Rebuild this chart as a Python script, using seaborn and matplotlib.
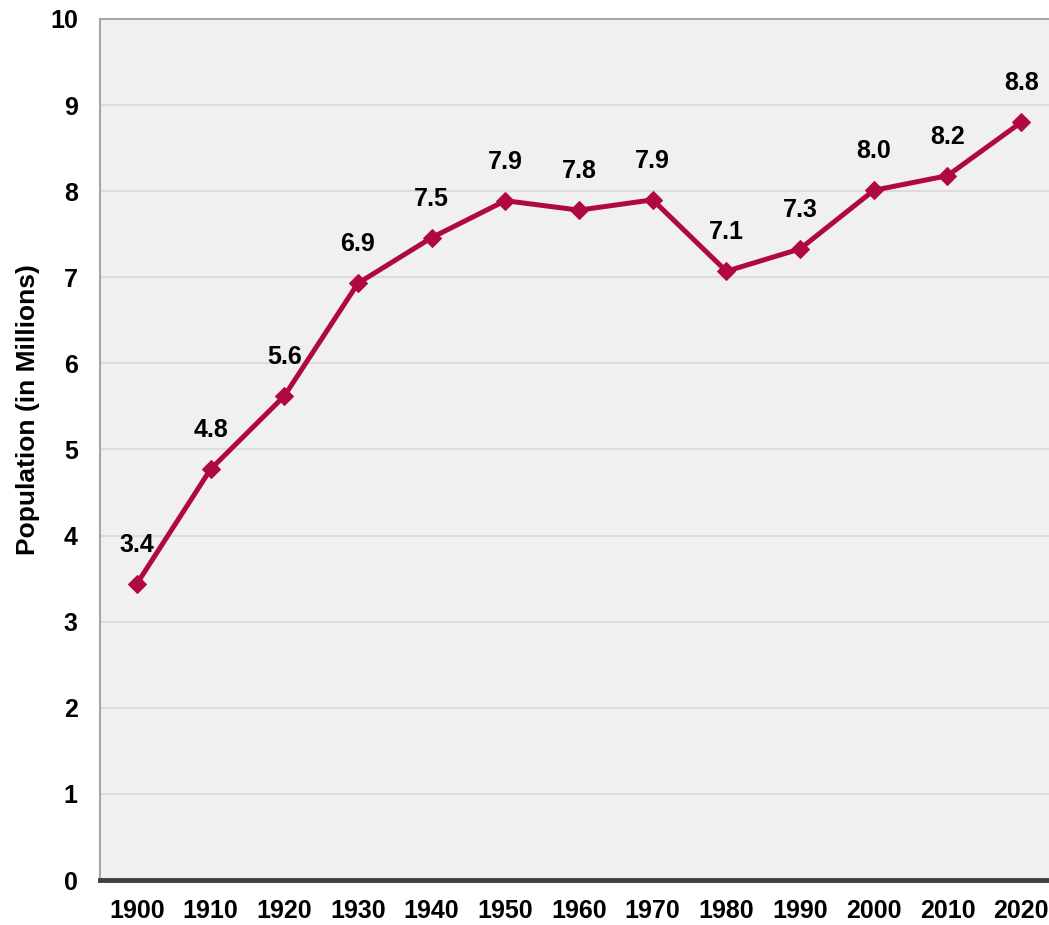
"""
Population line chart, 1900-2020.
"""

import pandas as pd
import matplotlib
matplotlib.use("Agg")
import matplotlib.pyplot as plt
import seaborn as sns

# data
years = [1900, 1910, 1920, 1930, 1940, 1950, 1960, 1970, 1980, 1990, 2000, 2010, 2020]
population = [3.44, 4.77, 5.62, 6.93, 7.46, 7.89, 7.78, 7.90, 7.07, 7.33, 8.01, 8.18, 8.80]
y_ticks = [0, 1, 2, 3, 4, 5, 6, 7, 8, 9, 10]

line_color = "#b0093f"

sns.set_theme(style="whitegrid")
plt.rcParams["font.family"] = ["Liberation Sans", "DejaVu Sans"]

df = pd.DataFrame({"year": years, "population": population})

fig = plt.figure(figsize=(10.49, 9.25), dpi=100)
ax = fig.add_axes([100 / 1049, 45 / 925, 958 / 1049, 861 / 925])
ax.set_facecolor("#f0f0f0")

sns.lineplot(data=df, x="year", y="population", ax=ax, color=line_color,
             linewidth=3.6, marker="D", markersize=9.5, markeredgecolor=line_color)

# value labels above each point
for x, y in zip(years, population):
    ax.annotate(f"{y:.1f}", (x, y), xytext=(0, 28), textcoords="offset points",
                ha="center", va="center", fontsize=18, fontweight="bold", color="black")

ax.set_xlim(1895, 2025)
ax.set_ylim(0, 10)
ax.set_xticks(years)
ax.set_xticklabels([str(y) for y in years], fontsize=18, fontweight="bold", color="black")
ax.set_yticks(y_ticks)
ax.set_yticklabels([str(t) for t in y_ticks], fontsize=18, fontweight="bold", color="black")
ax.tick_params(axis="both", length=0)
ax.tick_params(axis="y", pad=16)
ax.tick_params(axis="x", pad=14)

ax.grid(axis="y", color="#d9d9d9", linewidth=1.2)
ax.grid(axis="x", visible=False)

for side in ["left", "top", "right"]:
    ax.spines[side].set_color("#a6a6a6")
    ax.spines[side].set_linewidth(1.5)
ax.spines["bottom"].set_color("#404040")
ax.spines["bottom"].set_linewidth(3.5)

ax.set_xlabel("")
ax.set_ylabel("Population (in Millions)", fontsize=19, fontweight="bold",
              color="black", va="center")
ax.yaxis.set_label_coords(-0.075, 0.546)

fig.savefig("out.png", dpi=100)
plt.close(fig)
